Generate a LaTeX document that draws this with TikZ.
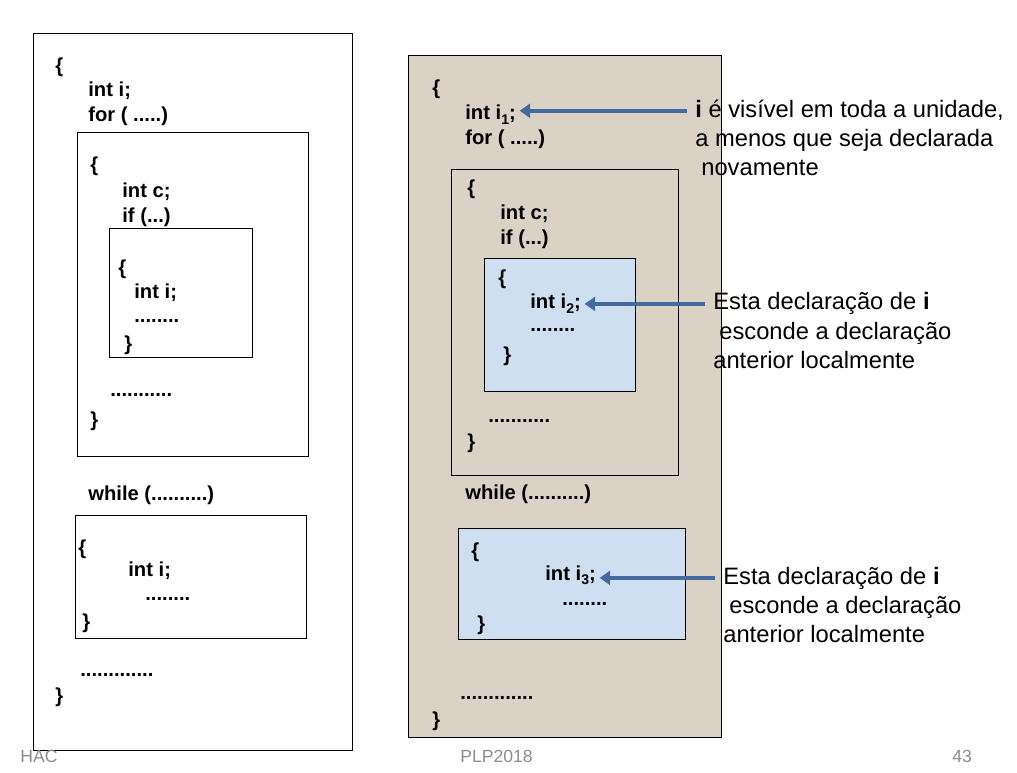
\documentclass[tikz,border=0pt]{standalone}
\usepackage{fontspec}
\setmainfont{Liberation Sans}
\usepackage{xcolor}
\usetikzlibrary{arrows.meta}
\definecolor{papel}{RGB}{218,210,196}
\definecolor{azulclaro}{RGB}{206,223,242}
\definecolor{seta}{RGB}{68,106,160}
\definecolor{rodape}{RGB}{140,140,140}
\newcommand{\idx}[1]{\raisebox{-0.45ex}{\fontsize{8}{9}\selectfont #1}}

\begin{document}
\begin{tikzpicture}[x=0.02cm,y=-0.02cm,
    codeline/.style={anchor=base west,inner sep=0pt,font=\fontsize{11.5}{14}\selectfont\bfseries},
    note/.style={anchor=base west,inner sep=0pt,font=\fontsize{13.5}{16}\selectfont},
    pointer/.style={draw=seta,line width=2.4pt,-{Triangle[width=8pt,length=6pt]},
        shorten <=4.5pt,shorten >=2pt},
    footer/.style={anchor=base west,inner sep=0pt,text=rodape,font=\fontsize{10}{12}\selectfont}]
                \useasboundingbox
                    (0,0) rectangle (1017,773);
                % left: the plain blocks
                \path[draw]
                    (33,33) rectangle (352,750);
                \draw
                    (77,132) rectangle (308,456);
                \draw
                    (109,228) rectangle (252,357);
                \draw
                    (75,515) rectangle (306,638);
                \node[codeline] (lopen) at (55,73) {\{};
                \node[codeline] (li) at (88,97) {int i;};
                \node[codeline] (lfor) at (88,122) {for ( .....)};
                \node[codeline] (lforopen) at (90,172) {\{};
                \node[codeline] (lc) at (122,198) {int c;};
                \node[codeline] (lif) at (122,223) {if (...)};
                \node[codeline] (lifopen) at (118,275) {\{};
                \node[codeline] (lifi) at (134,299) {int i;};
                \node[codeline] (lifdots) at (134,322) {........};
                \node[codeline] (lifclose) at (124,351) {\}};
                \node[codeline] (lfordots) at (110,397) {...........};
                \node[codeline] (lforclose) at (90,426) {\}};
                \node[codeline] (lwhile) at (88,500) {while (..........)};
                \node[codeline] (lwopen) at (78,554) {\{};
                \node[codeline] (lwi) at (128,576) {int i;};
                \node[codeline] (lwdots) at (145,600) {........};
                \node[codeline] (lwclose) at (82,628) {\}};
                \node[codeline] (ldots) at (80,676) {.............};
                \node[codeline] (lclose) at (55,702) {\}};
                % right: the same blocks, shaded
                \filldraw[color=black,fill=papel]
                    (408,55) rectangle (721,737);
                \draw
                    (451,169) rectangle (678,475);
                \filldraw[color=black,fill=azulclaro]
                    (484,258) rectangle (635,391);
                \filldraw[color=black,fill=azulclaro]
                    (458,528) rectangle (685,639);
                \node[codeline] (ropen) at (432,95) {\{};
                \node[codeline] (ri) at (465,120) {int i\idx{1};};
                \node[codeline] (rfor) at (465,145) {for ( .....)};
                \node[codeline] (rforopen) at (467,195) {\{};
                \node[codeline] (rc) at (500,220) {int c;};
                \node[codeline] (rif) at (500,245) {if (...)};
                \node[codeline] (rifopen) at (498,285) {\{};
                \node[codeline] (rifi) at (530,309) {int i\idx{2};};
                \node[codeline] (rifdots) at (530,332) {........};
                \node[codeline] (rifclose) at (503,361) {\}};
                \node[codeline] (rfordots) at (488,422) {...........};
                \node[codeline] (rforclose) at (467,448) {\}};
                \node[codeline] (rwhile) at (465,499) {while (..........)};
                \node[codeline] (rwopen) at (471,557) {\{};
                \node[codeline] (rwi) at (545,580) {int i\idx{3};};
                \node[codeline] (rwdots) at (562,605) {........};
                \node[codeline] (rwclose) at (477,630) {\}};
                \node[codeline] (rdots) at (460,699) {.............};
                \node[codeline] (rclose) at (432,726) {\}};
                % notes
                \node[note] (nA) at (695,118) {\textbf{i} é visível em toda a unidade,};
                \node[note] (nB) at (695,147) {a menos que seja declarada};
                \node[note] (nC) at (701,176) {novamente};
                \node[note] (mA) at (713,310) {Esta declaração de \textbf{i}};
                \node[note] (mB) at (719,339) {esconde a declaração};
                \node[note] (mC) at (713,368) {anterior localmente};
                \node[note] (kA) at (723,584) {Esta declaração de \textbf{i}};
                \node[note] (kB) at (729,613) {esconde a declaração};
                \node[note] (kC) at (723,642) {anterior localmente};
                \draw[pointer] (nA.west) -- (nA.west -| ri.east);
                \draw[pointer] (mA.west) -- (mA.west -| rifi.east);
                \draw[pointer] (kA.west) -- (kA.west -| rwi.east);
                % footer
                \node[footer] (hac) at (20,762) {HAC};
                \node[footer] (plp) at (460,762) {PLP2018};
                \node[footer] (page) at (952,762) {43};
            \end{tikzpicture}
\end{document}
